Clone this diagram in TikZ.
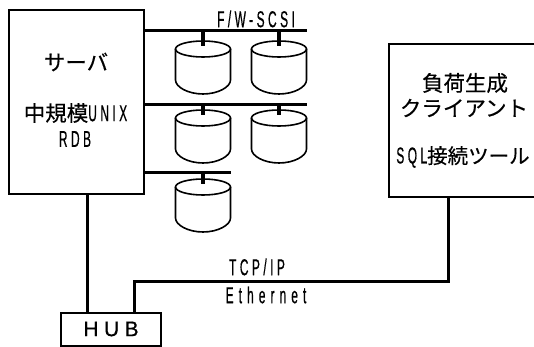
\documentclass[tikz,border=0pt]{standalone}
\usepackage{fontspec}
\setmainfont[FakeBold=0.4]{Noto Sans CJK JP}
\newfontfamily\latinf[FakeStretch=0.52,LetterSpace=15,FakeBold=0.5]{Liberation Sans}
\newfontfamily\latine[FakeStretch=0.52,LetterSpace=22,FakeBold=0.5]{Liberation Sans}
\newfontfamily\latinw[FakeStretch=1.0,LetterSpace=26,FakeBold=0.5]{Liberation Sans}
\tikzset{
  x=1pt,y=-1pt,
  frame/.style={draw=black,line width=1.8pt,fill=white,inner sep=0pt},
  thick bus/.style={draw=black,line width=3pt},
  link/.style={draw=black,line width=3pt},
  disk line/.style={draw=black,line width=1.6pt},
  jp/.style={font=\fontsize{21.5}{24}\selectfont,inner sep=0pt},
  jpsmall/.style={font=\fontsize{20.5}{24}\selectfont,inner sep=0pt},
  lat/.style={font=\latinf\fontsize{23}{26}\selectfont,inner sep=0pt},
}
\newcommand{\mydisk}[3]{% name, cx, top y
  \begin{scope}[shift={(#2,#3)}]
    \path[disk line,line join=round] (-27.5,8) -- (-27.5,39) .. controls (-27.5,46) and (-15,53) .. (0,53)
      .. controls (15,53) and (27.5,46) .. (27.5,39) -- (27.5,8);
    \path[disk line] (0,8) ellipse [x radius=27.5,y radius=8];
    \coordinate (#1) at (0,5);
  \end{scope}}
\begin{document}
\begin{tikzpicture}
\useasboundingbox (0,0) rectangle (534,347);
\node[frame,minimum width=135pt,minimum height=184pt,anchor=north west] (server) at (8,9) {};
\node[frame,minimum width=160pt,minimum height=153pt,anchor=north west] (client) at (388,43) {};
\node[frame,minimum width=100pt,minimum height=33pt,anchor=north west] (hub) at (60,312) {};

\node[jp] (t1) at (76,62) {サーバ};
\node[jp] (t2) at (75.5,113) {中規模{\latinf\fontsize{23}{26}\selectfont UNIX}};
\node[lat] (t3) at (75,139) {RDB};
\node[jp] (t4) at (465,83) {負荷生成};
\node[jp] (t5) at (464,108) {クライアント};
\node[jpsmall] (t6) at (463,157) {{\latinf\fontsize{23}{26}\selectfont SQL}接続ツール};
\node[lat] (t7) at (256,19) {F/W-SCSI};
\node[lat] (t8) at (257,267) {TCP/IP};
\node[lat,font=\latine\fontsize{23}{26}\selectfont] (t9) at (266,295) {Ethernet};
\node[font=\latinw\fontsize{21}{24}\selectfont,inner sep=0pt] (t10) at (111,329) {HUB};

\mydisk{d1}{203}{41}
\mydisk{d2}{279}{41}
\mydisk{d3}{203}{110}
\mydisk{d4}{279}{110}
\mydisk{d5}{203}{179}

\coordinate (b1) at (143,31); \coordinate (b1e) at (307,31);
\coordinate (b2) at (143,105); \coordinate (b2e) at (307,105);
\coordinate (b3) at (143,173); \coordinate (b3e) at (231,173);
\path[thick bus] (b1) -- (b1e);
\path[thick bus] (b2) -- (b2e);
\path[thick bus] (b3) -- (b3e);
\foreach \d/\y in {d1/31,d2/31,d3/105,d4/105,d5/173}{
  \path[thick bus,line width=3.6pt] (\d |- 0,\y) -- (\d);
}
\path[link] (server.south -| 87,0) -- (hub.north -| 87,0);
\path[link] (hub.north -| 134,0) -- (134,281) -- (448,281) -- (client.south -| 448,0);
\end{tikzpicture}
\end{document}
